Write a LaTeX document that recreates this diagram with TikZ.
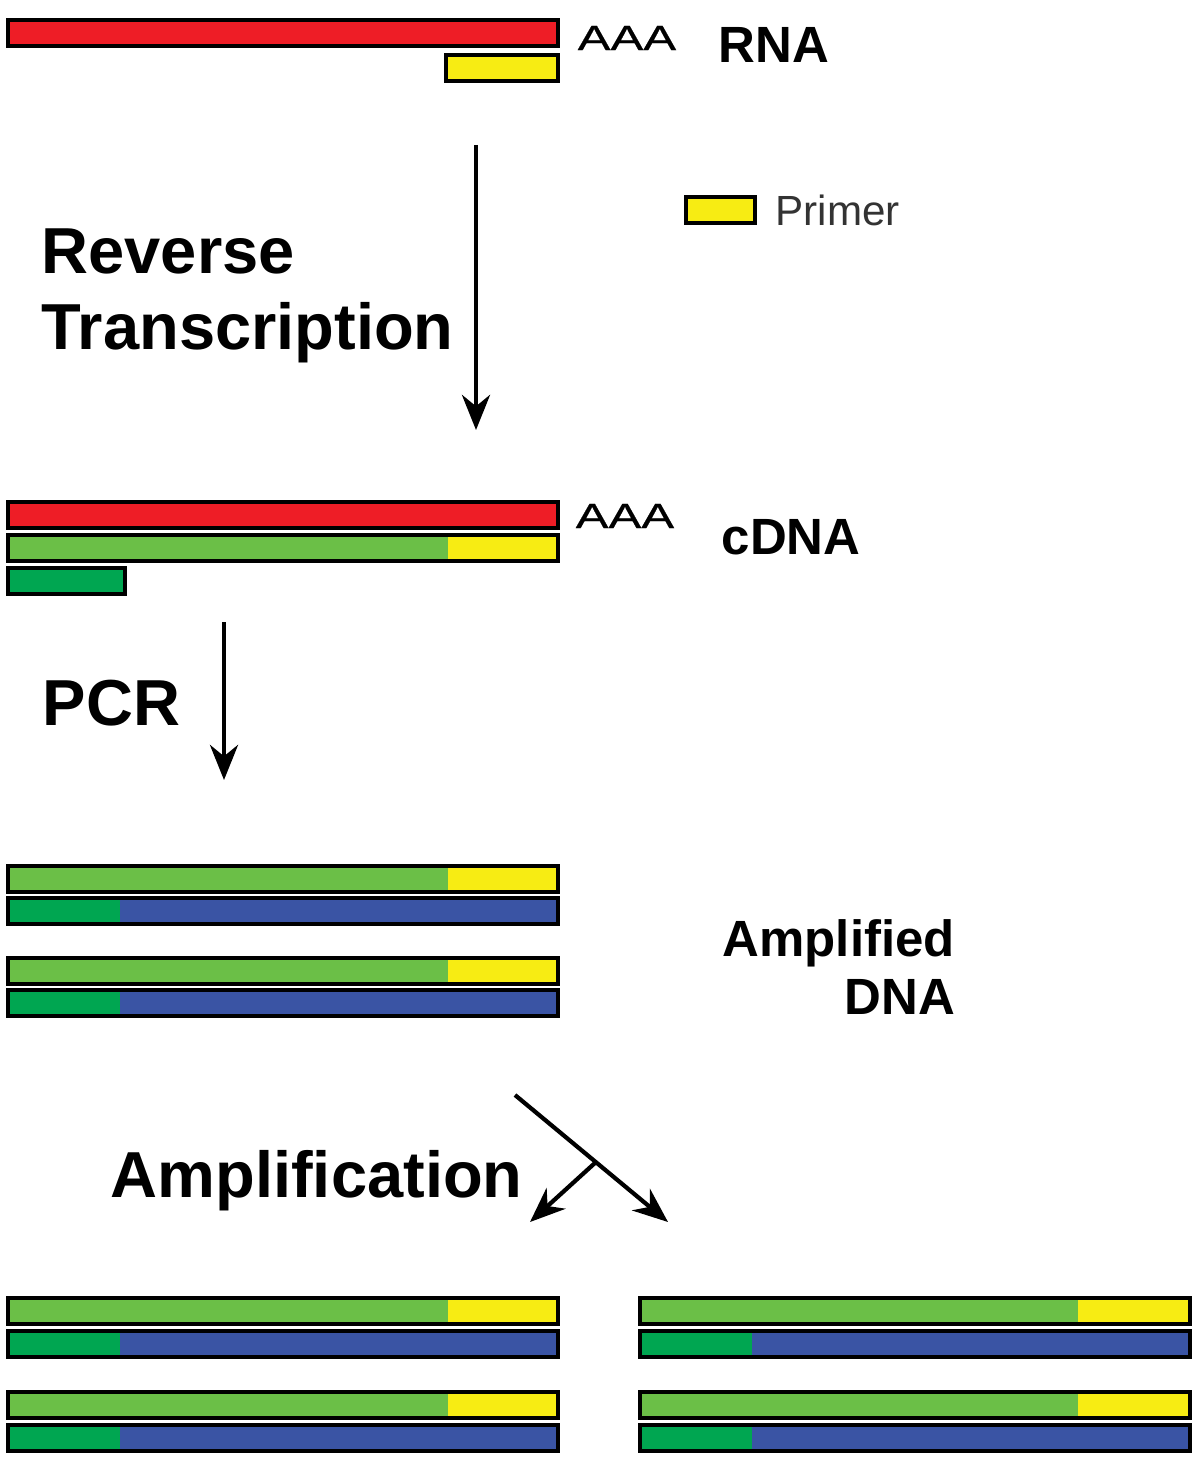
\documentclass[tikz,border=0pt]{standalone}
\usepackage{fontspec}
\setmainfont{Liberation Sans}
\usetikzlibrary{arrows.meta}
\definecolor{RnaRed}{HTML}{EE1D26}
\definecolor{PrimerYellow}{HTML}{F7EC13}
\definecolor{StrandGreen}{HTML}{6BBF47}
\definecolor{StartGreen}{HTML}{00A651}
\definecolor{CopyBlue}{HTML}{3A54A4}
\definecolor{LegendGray}{HTML}{333333}

% two-tone strand: x left, y top, x split, x right, left colour, right colour
\newcommand{\strandbar}[6]{%
  \fill[#5] (#1,#2) rectangle (#3,#2+26);
  \fill[#6] (#3,#2) rectangle (#4,#2+26);
  \draw[strandline] (#1,#2) rectangle (#4,#2+26);
}

\begin{document}
\begin{tikzpicture}[x=0.1mm, y=-0.1mm,
    strandline/.style={draw=black, line width=0.9pt},
    flow/.style={-{Stealth[length=10pt, width=8pt]}, line width=1.2pt},
    every node/.style={inner sep=0pt},
    steplabel/.style={font=\fontsize{18.5}{21.5}\selectfont\bfseries, align=left},
    namelabel/.style={font=\fontsize{14.5}{16.5}\selectfont\bfseries},
    tail/.style={font=\fontsize{10}{12}\selectfont\addfontfeature{FakeStretch=1.4, FakeBold=0.6}}]
    \useasboundingbox (0,0) rectangle (1200,1474);

    % RNA with primer (top)
    \strandbar{8}{20}{558}{558}{RnaRed}{RnaRed}
    \strandbar{446}{55}{558}{558}{PrimerYellow}{PrimerYellow}
    \node[tail, anchor=west] (tailrna) at (577, 38) {AAA};
    \node[namelabel, anchor=west] (rna) at (718, 45) {RNA};

    % legend
    \strandbar{686}{197}{755}{755}{PrimerYellow}{PrimerYellow}
    \node[font=\fontsize{12}{14}\selectfont, text=LegendGray, anchor=west] (primer) at (775, 210) {Primer};

    % Step 1: reverse transcription
    \coordinate (rtstart) at (476, 145);
    \coordinate (rtend) at (476, 430);
    \draw[flow] (rtstart) -- (rtend);
    \node[steplabel, anchor=north west] (rt) at (41, 228) {Reverse\\Transcription};

    % cDNA
    \strandbar{8}{502}{558}{558}{RnaRed}{RnaRed}
    \strandbar{8}{535}{448}{558}{StrandGreen}{PrimerYellow}
    \strandbar{8}{568}{125}{125}{StartGreen}{StartGreen}
    \node[tail, anchor=west] (tailcdna) at (575, 516) {AAA};
    \node[namelabel, anchor=west] (cdna) at (721, 537) {cDNA};

    % Step 2: PCR
    \coordinate (pcrstart) at (224, 622);
    \coordinate (pcrend) at (224, 780);
    \draw[flow] (pcrstart) -- (pcrend);
    \node[steplabel, anchor=north west] (pcr) at (42, 679) {PCR};

    % amplified DNA (two copies)
    \strandbar{8}{866}{448}{558}{StrandGreen}{PrimerYellow}
    \strandbar{8}{898}{120}{558}{StartGreen}{CopyBlue}
    \strandbar{8}{958}{448}{558}{StrandGreen}{PrimerYellow}
    \strandbar{8}{990}{120}{558}{StartGreen}{CopyBlue}
    \node[namelabel, align=right, anchor=north west] (ampdna) at (722, 919) {Amplified\\DNA};

    % Step 3: amplification (split arrow)
    \coordinate (ampstart) at (515, 1095);
    \coordinate (ampfork) at (596, 1162);
    \coordinate (ampright) at (668, 1222);
    \coordinate (ampleft) at (530, 1222);
    \draw[flow] (ampstart) -- (ampright);
    \draw[flow] (ampfork) -- (ampleft);
    \node[steplabel, anchor=north west] (amp) at (110, 1150) {Amplification};

    % amplified DNA (four copies)
    \strandbar{8}{1298}{448}{558}{StrandGreen}{PrimerYellow}
    \strandbar{8}{1331}{120}{558}{StartGreen}{CopyBlue}
    \strandbar{8}{1392}{448}{558}{StrandGreen}{PrimerYellow}
    \strandbar{8}{1425}{120}{558}{StartGreen}{CopyBlue}
    \strandbar{640}{1298}{1078}{1190}{StrandGreen}{PrimerYellow}
    \strandbar{640}{1331}{752}{1190}{StartGreen}{CopyBlue}
    \strandbar{640}{1392}{1078}{1190}{StrandGreen}{PrimerYellow}
    \strandbar{640}{1425}{752}{1190}{StartGreen}{CopyBlue}
\end{tikzpicture}
\end{document}
